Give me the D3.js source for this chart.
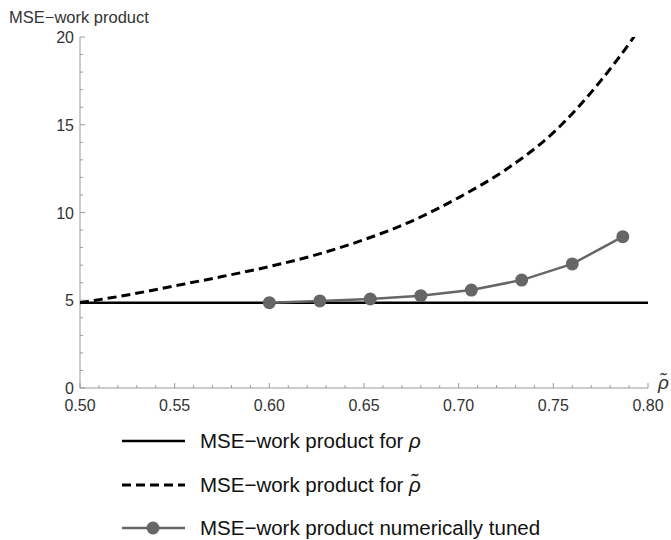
<!DOCTYPE html>
<html>
<head>
<meta charset="utf-8">
<script src="https://cdn.jsdelivr.net/npm/d3@7"></script>
<style>
  body { margin: 0; background: #fff; }
  svg text { font-family: "Liberation Sans", Arial, sans-serif; }
</style>
</head>
<body>
<div id="chart"></div>
<script>
  // values
  const rhoLevel = 4.86;              // MSE-work product for rho (flat)
  const rhoTildeX = [0.50, 0.525, 0.55, 0.575, 0.60, 0.625, 0.65, 0.675, 0.70, 0.725, 0.75, 0.775, 0.7925, 0.80];
  const rhoTildeY = [4.86, 5.3, 5.82, 6.35, 6.92, 7.6, 8.45, 9.5, 10.85, 12.45, 14.55, 17.5, 20.0, 21.2];
  const tunedX = [0.60, 0.6267, 0.6533, 0.68, 0.7067, 0.7333, 0.76, 0.7867];
  const tunedY = [4.86, 4.96, 5.07, 5.26, 5.58, 6.15, 7.07, 8.62];
  const xTicks = [0.50, 0.55, 0.60, 0.65, 0.70, 0.75, 0.80];
  const yTicks = [0, 5, 10, 15, 20];
  const legendLabels = ['MSE\u2212work product for ', 'MSE\u2212work product for ', 'MSE\u2212work product numerically tuned'];

  const width = 671, height = 540;
  const margin = { left: 80, right: 23, top: 37, bottom: 152 };

  const svg = d3.select('#chart').append('svg')
    .attr('width', width)
    .attr('height', height);

  const x = d3.scaleLinear().domain([0.5, 0.8]).range([margin.left, width - margin.right]);
  const y = d3.scaleLinear().domain([0, 20]).range([height - margin.bottom, margin.top]);

  const axisColor = '#9a9a9a';
  const labelColor = '#333';

  // minor ticks
  const xMinor = d3.range(0, 31).map(i => 0.5 + i * 0.01);
  const yMinor = d3.range(0, 21);
  const y0 = y(0), x0 = x(0.5);

  svg.append('g').selectAll('line.xm')
    .data(xMinor).enter().append('line')
    .attr('x1', d => x(d)).attr('x2', d => x(d))
    .attr('y1', y0).attr('y2', d => y0 - (xTicks.some(t => Math.abs(t - d) < 1e-6) ? 5 : 3))
    .attr('stroke', axisColor).attr('stroke-width', 1);

  svg.append('g').selectAll('line.ym')
    .data(yMinor).enter().append('line')
    .attr('y1', d => y(d)).attr('y2', d => y(d))
    .attr('x1', x0).attr('x2', d => x0 + (d % 5 === 0 ? 5 : 3))
    .attr('stroke', axisColor).attr('stroke-width', 1);

  // axis lines
  svg.append('line').attr('x1', x0).attr('x2', x(0.8)).attr('y1', y0).attr('y2', y0)
    .attr('stroke', axisColor).attr('stroke-width', 1);
  svg.append('line').attr('x1', x0).attr('x2', x0).attr('y1', y0).attr('y2', y(20))
    .attr('stroke', axisColor).attr('stroke-width', 1);

  // tick labels
  svg.append('g').selectAll('text')
    .data(xTicks).enter().append('text')
    .attr('x', d => x(d)).attr('y', y0 + 23)
    .attr('text-anchor', 'middle')
    .attr('font-size', 16).attr('fill', labelColor)
    .text(d => d.toFixed(2));

  svg.append('g').selectAll('text')
    .data(yTicks).enter().append('text')
    .attr('x', x0 - 6).attr('y', d => y(d) + 6)
    .attr('text-anchor', 'end')
    .attr('font-size', 16).attr('fill', labelColor)
    .text(d => d);

  // axis titles
  svg.append('text').attr('x', 9).attr('y', 23)
    .attr('font-size', 16.5).attr('fill', labelColor)
    .text('MSE\u2212work product');
  svg.append('text').attr('x', x(0.8) + 10).attr('y', y0 + 1)
    .attr('font-size', 19).attr('font-style', 'italic').attr('fill', labelColor)
    .text('\u03C1\u0303');

  // clip to plot area
  svg.append('clipPath').attr('id', 'clip').append('rect')
    .attr('x', x0).attr('y', y(20)).attr('width', x(0.8) - x0).attr('height', y0 - y(20));

  const plot = svg.append('g').attr('clip-path', 'url(#clip)');

  const line = d3.line().x(d => x(d[0])).y(d => y(d[1]));

  // flat rho line
  plot.append('path')
    .attr('d', line([[0.5, rhoLevel], [0.8, rhoLevel]]))
    .attr('fill', 'none').attr('stroke', '#000').attr('stroke-width', 2.5);

  // rho tilde dashed curve
  const dashed = d3.line().curve(d3.curveMonotoneX).x(d => x(d[0])).y(d => y(d[1]));
  plot.append('path')
    .attr('d', dashed(rhoTildeX.map((v, i) => [v, rhoTildeY[i]])))
    .attr('fill', 'none').attr('stroke', '#000').attr('stroke-width', 3)
    .attr('stroke-dasharray', '9,5');

  // numerically tuned series
  const tuned = tunedX.map((v, i) => [v, tunedY[i]]);
  svg.append('path')
    .attr('d', line(tuned))
    .attr('fill', 'none').attr('stroke', '#666').attr('stroke-width', 2.5);
  svg.append('g').selectAll('circle')
    .data(tuned).enter().append('circle')
    .attr('cx', d => x(d[0])).attr('cy', d => y(d[1]))
    .attr('r', 6.5).attr('fill', '#666');

  // legend
  const legY = [441, 485, 528];
  const lg = svg.append('g');
  lg.append('line').attr('x1', 122).attr('x2', 185).attr('y1', legY[0]).attr('y2', legY[0])
    .attr('stroke', '#000').attr('stroke-width', 2.5);
  lg.append('line').attr('x1', 122).attr('x2', 185).attr('y1', legY[1]).attr('y2', legY[1])
    .attr('stroke', '#000').attr('stroke-width', 3).attr('stroke-dasharray', '9,5');
  lg.append('line').attr('x1', 122).attr('x2', 185).attr('y1', legY[2]).attr('y2', legY[2])
    .attr('stroke', '#666').attr('stroke-width', 2.5);
  lg.append('circle').attr('cx', 153).attr('cy', legY[2]).attr('r', 6.5).attr('fill', '#666');

  legendLabels.forEach((lbl, i) => {
    const t = lg.append('text').attr('x', 200).attr('y', legY[i] + 7)
      .attr('font-size', 20.5).attr('fill', '#111');
    t.append('tspan').text(lbl);
    if (i === 0) t.append('tspan').attr('font-style', 'italic').text('\u03C1');
    if (i === 1) t.append('tspan').attr('font-style', 'italic').text('\u03C1\u0303');
  });
</script>
</body>
</html>
